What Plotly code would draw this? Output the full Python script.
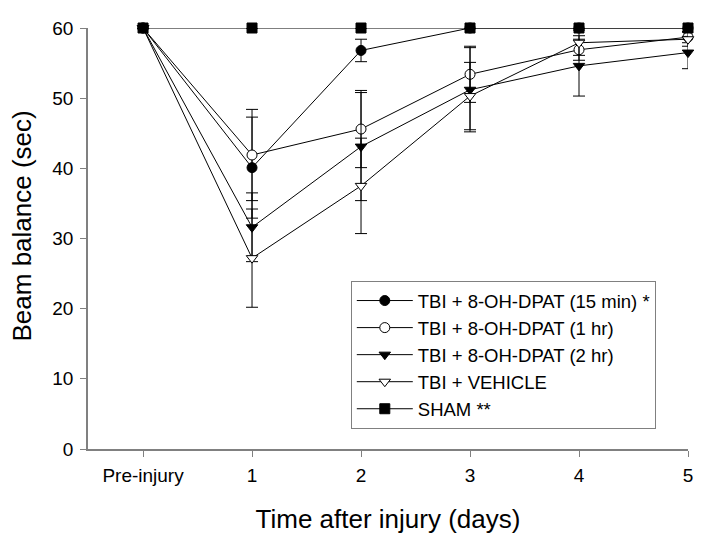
import plotly.graph_objects as go

days = ["Pre-injury", "1", "2", "3", "4", "5"]
x_idx = [0, 1, 2, 3, 4, 5]

names = ["TBI + 8-OH-DPAT (15 min) *", "TBI + 8-OH-DPAT (1 hr)",
         "TBI + 8-OH-DPAT (2 hr)", "TBI + VEHICLE", "SHAM **"]
dpat15 = [60, 40.1, 56.8, 60, 60, 60]
dpat15_err = [0, 7.2, 1.6, 0, 0, 0]
dpat1h = [60, 41.9, 45.6, 53.4, 56.9, 58.7]
dpat1h_err = [0, 6.5, 5.5, 4.0, 1.5, 0.8]
dpat2h = [60, 31.6, 43.1, 51.2, 54.6, 56.5]
dpat2h_err = [0, 4.9, 7.7, 6.0, 4.3, 2.3]
vehicle = [60, 27.2, 37.5, 50.3, 57.9, 58.4]
vehicle_err = [0, 7.0, 6.8, 4.8, 1.8, 1.0]
sham = [60, 60, 60, 60, 60, 60]
sham_err = [0, 0, 0, 0, 0, 0]

series = [dpat15, dpat1h, dpat2h, vehicle, sham]
errs = [dpat15_err, dpat1h_err, dpat2h_err, vehicle_err, sham_err]
symbols = ["circle", "circle", "triangle-down", "triangle-down", "square"]
fills = ["black", "white", "black", "white", "black"]
sizes = [10, 10, 10, 10, 10]

fig = go.Figure()
for name, y, e, sym, fc, sz in zip(names, series, errs, symbols, fills, sizes):
    fig.add_trace(go.Scatter(
        x=x_idx, y=y, name=name, mode="lines+markers",
        line=dict(color="black", width=1),
        marker=dict(symbol=sym, size=sz, color=fc, line=dict(color="black", width=1)),
        error_y=dict(type="data", array=e, visible=True, color="black", thickness=1, width=6),
        cliponaxis=False,
    ))

font = "Liberation Sans, Arial, sans-serif"
fig.update_layout(
    width=707, height=543,
    margin=dict(l=80, r=27, t=20, b=102),
    paper_bgcolor="white", plot_bgcolor="white",
    font=dict(family=font, color="black"),
    showlegend=True,
    legend=dict(x=0.438, y=0.399, xanchor="left", yanchor="top",
                bordercolor="#808080", borderwidth=1, bgcolor="white",
                font=dict(size=18.5, family=font), itemwidth=56,
                tracegroupgap=0),
    xaxis=dict(range=[-0.505, 5], tickmode="array", tickvals=x_idx, ticktext=days,
               showgrid=False, zeroline=False, showline=True, linecolor="#808080",
               linewidth=1.5, ticks="outside", ticklen=6, tickcolor="#808080",
               tickfont=dict(size=19), automargin=False, ticklabelstandoff=2,
               title=dict(text="Time after injury (days)", font=dict(size=26), standoff=25)),
    yaxis=dict(range=[0, 60], tickvals=[0, 10, 20, 30, 40, 50, 60],
               showgrid=False, zeroline=False, showline=True, linecolor="#808080",
               linewidth=1.5, ticks="outside", ticklen=6, tickcolor="#808080",
               tickfont=dict(size=19), automargin=False, ticklabelstandoff=3),
    annotations=[dict(text="Beam balance (sec)", xref="paper", yref="paper",
                      x=-0.11, y=0.5285, xanchor="center", yanchor="middle",
                      textangle=-90, showarrow=False, font=dict(size=26))],
)

fig.write_html("out.html")
